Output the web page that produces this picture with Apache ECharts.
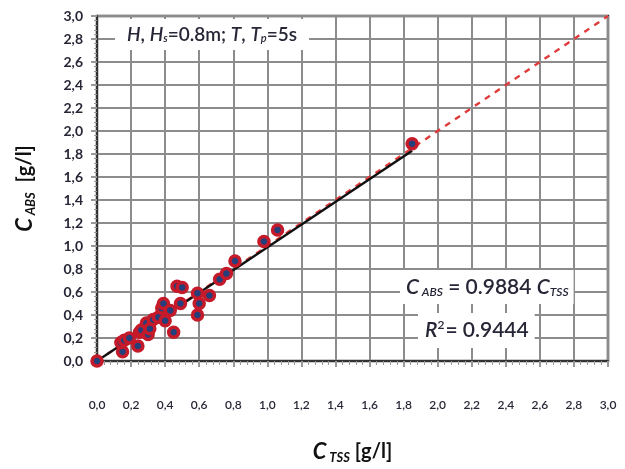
<!DOCTYPE html>
<html>
<head>
<meta charset="utf-8">
<script src="https://cdn.jsdelivr.net/npm/echarts@6/dist/echarts.min.js"></script>
<style>
  html, body { margin: 0; padding: 0; background: #fff; }
  #chart { width: 625px; height: 469px; }
</style>
</head>
<body>
<div id="chart"></div>
<script>
// measured points (C_TSS, C_ABS) in g/l
const tssValues = [0, 0.15, 0.14, 0.16, 0.19, 0.24, 0.25, 0.26, 0.29, 0.30, 0.31, 0.33, 0.36, 0.38, 0.39, 0.40, 0.43, 0.45, 0.47, 0.49, 0.50, 0.59, 0.59, 0.60, 0.66, 0.72, 0.76, 0.81, 0.98, 1.06, 1.85];
const absValues = [0, 0.08, 0.16, 0.18, 0.20, 0.13, 0.25, 0.27, 0.33, 0.23, 0.28, 0.36, 0.38, 0.46, 0.50, 0.35, 0.44, 0.25, 0.65, 0.50, 0.64, 0.59, 0.40, 0.50, 0.57, 0.71, 0.76, 0.87, 1.04, 1.14, 1.89];

// fitted line C_ABS = 0.9884 C_TSS (end points) and 1:1 line
const fitLine = [[0, 0], [1.85, 1.829]];
const oneToOne = [[0, 0], [3, 3]];
const tickFmt = v => v.toFixed(1).replace('.', ',');

const points = tssValues.map((x, i) => [x, absValues[i]]);

const chart = echarts.init(document.getElementById('chart'));
const font = 'Lato, "Open Sans", sans-serif';
const txt = '#262636';
const gridGrey = '#8c8c8c';

const titleRich = {
  c: { fontSize: 22, fontWeight: 'bold', fontStyle: 'italic', color: '#111', fontFamily: font },
  sub: { fontSize: 13, fontWeight: 'bold', fontStyle: 'italic', color: '#111', fontFamily: font, padding: [12, 0, 0, 0] },
  n: { fontSize: 20, fontWeight: 'bold', color: '#111', fontFamily: font }
};

chart.setOption({
  animation: false,
  grid: {
    left: 97, top: 16, width: 511, height: 353,
    show: true, borderColor: '#333', borderWidth: 2.5
  },
  xAxis: {
    type: 'value', min: 0, max: 3, interval: 0.2,
    axisLine: { lineStyle: { color: '#333', width: 2 } },
    axisTick: { show: true, length: 6, lineStyle: { color: '#999', width: 2 } },
    minorTick: { show: true, splitNumber: 5, length: 4, lineStyle: { color: '#999', width: 1 } },
    splitLine: { lineStyle: { color: gridGrey, width: 2 } },
    axisLabel: { formatter: tickFmt, margin: 38, fontSize: 12, fontWeight: 600, color: txt, fontFamily: font },
    name: '{c|C}{sub| TSS}{n| [g/l]}',
    nameLocation: 'middle', nameGap: 78,
    nameTextStyle: { rich: titleRich }
  },
  yAxis: {
    type: 'value', min: 0, max: 3, interval: 0.2,
    axisLine: { show: true, lineStyle: { color: '#333', width: 2 } },
    axisTick: { show: true, length: 6, lineStyle: { color: '#999', width: 2 } },
    minorTick: { show: true, splitNumber: 5, length: 3, lineStyle: { color: '#999', width: 1 } },
    splitLine: { lineStyle: { color: gridGrey, width: 2 } },
    axisLabel: { formatter: tickFmt, margin: 14, fontSize: 14, fontWeight: 'bold', color: txt, fontFamily: font },
    name: '{c|C}{sub| ABS}{n|  [g/l]}',
    nameLocation: 'middle', nameGap: 60, nameRotate: 90,
    nameTextStyle: { rich: titleRich }
  },
  graphic: [{
    type: 'text', left: 115, top: 19, z: 100,
    style: {
      text: '{i|H}{n|, }{i|H}{s|s}{n|=0.8m; }{i|T}{n|, }{i|T}{s|p}{n|=5s}',
      backgroundColor: '#fff', padding: [6, 12, 6, 12],
      rich: {
        i: { fontSize: 19, fontStyle: 'italic', fontWeight: 600, fill: txt, fontFamily: font },
        n: { fontSize: 19, fontWeight: 600, fill: txt, fontFamily: font },
        s: { fontSize: 11, fontStyle: 'italic', fontWeight: 600, fill: txt, fontFamily: font, padding: [8, 0, 0, 0] }
      }
    }
  }, {
    type: 'text', left: 400, top: 270, z: 100,
    style: {
      text: '{i|C}{s| ABS}{n| = 0.9884 }{i|C}{s|TSS}',
      backgroundColor: '#fff', padding: [6, 5, 6, 6],
      rich: {
        i: { fontSize: 21, fontStyle: 'italic', fontWeight: 600, fill: txt, fontFamily: font },
        n: { fontSize: 21, fontWeight: 600, fill: txt, fontFamily: font },
        s: { fontSize: 12, fontStyle: 'italic', fontWeight: 600, fill: txt, fontFamily: font, padding: [10, 0, 0, 0] }
      }
    }
  }, {
    type: 'text', left: 418, top: 313, z: 100,
    style: {
      text: '{i|R}{p|2}{n|= 0.9444}',
      backgroundColor: '#fff', padding: [6, 6, 7, 7],
      rich: {
        i: { fontSize: 21, fontStyle: 'italic', fontWeight: 600, fill: txt, fontFamily: font },
        n: { fontSize: 21, fontWeight: 600, fill: txt, fontFamily: font },
        p: { fontSize: 12, fontWeight: 600, fill: txt, fontFamily: font, padding: [0, 1, 10, 0] }
      }
    }
  }],
  series: [{
    type: 'line', data: oneToOne, symbol: 'none', z: 2,
    lineStyle: { color: '#e03a3a', width: 2.4, type: [6, 6] }
  }, {
    type: 'line', data: fitLine, symbol: 'none', z: 3,
    lineStyle: { color: '#111', width: 2.4 }
  }, {
    type: 'scatter', data: points, symbolSize: 10, z: 4,
    itemStyle: { color: '#233f7c', borderColor: '#c41a2a', borderWidth: 3.5, opacity: 1 }
  }]
});
</script>
</body>
</html>
